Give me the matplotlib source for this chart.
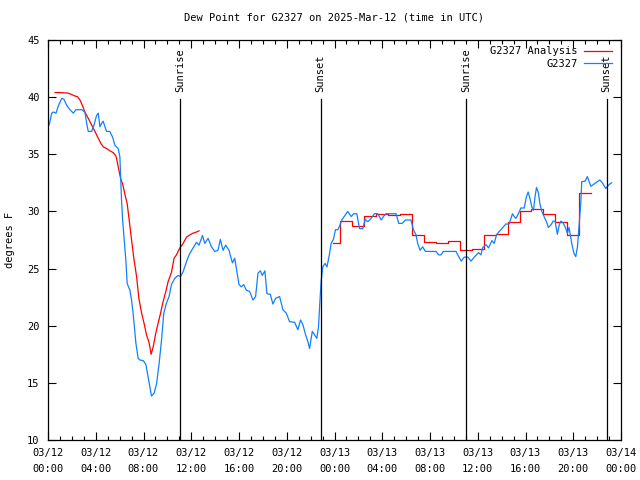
import matplotlib
matplotlib.use("Agg")
import matplotlib.pyplot as plt
import numpy as np

# ---------------- data (hours since 2025-03-12 00:00 UTC) ----------------
obs_hours = [0.11, 0.31, 0.44, 0.67, 0.86, 1.15, 1.34, 1.56, 1.84, 2.12, 2.34, 2.82, 3.09, 3.24,
             3.37, 3.65, 3.87, 4.07, 4.21, 4.35, 4.49, 4.62, 4.77, 4.91, 5.18, 5.41, 5.60, 5.88,
             6.02, 6.10, 6.16, 6.25, 6.36, 6.52, 6.63, 6.86, 7.00, 7.13, 7.36, 7.55, 7.69, 7.97,
             8.20, 8.39, 8.67, 8.89, 9.09, 9.31, 9.51, 9.70, 9.93, 10.14, 10.34, 10.62, 10.90,
             11.10, 11.31, 11.60, 11.82, 12.15, 12.44, 12.65, 12.94, 13.13, 13.41, 13.69, 13.97,
             14.24, 14.44, 14.66, 14.89, 15.16, 15.45, 15.64, 15.83, 16.00, 16.20, 16.39, 16.62,
             16.89, 17.17, 17.39, 17.59, 17.79, 17.95, 18.17, 18.34, 18.62, 18.84, 19.07, 19.40,
             19.68, 19.96, 20.24, 20.66, 20.93, 21.16, 21.35, 21.58, 21.77, 21.91, 22.14, 22.33,
             22.52, 22.66, 22.80, 22.89, 23.02, 23.21, 23.37, 23.54, 23.72, 23.92, 24.08, 24.28,
             24.42, 24.64, 24.84, 25.11, 25.40, 25.61, 25.87, 26.09, 26.37, 26.57, 26.79, 27.07,
             27.35, 27.62, 27.91, 28.10, 28.32, 29.16, 29.38, 29.66, 29.94, 30.41, 30.61, 30.83,
             30.97, 31.17, 31.39, 31.61, 32.51, 32.72, 32.92, 33.12, 34.18, 34.40, 34.62, 34.87,
             35.18, 35.43, 35.71, 36.07, 36.27, 36.40, 36.69, 36.90, 37.19, 37.38, 37.57, 37.80,
             38.02, 38.36, 38.63, 38.91, 39.05, 39.20, 39.41, 39.61, 39.89, 40.08, 40.22, 40.37,
             40.53, 40.67, 40.78, 40.92, 41.09, 41.20, 41.37, 41.56, 41.75, 41.92, 42.12, 42.31,
             42.48, 42.67, 42.82, 42.96, 43.15, 43.32, 43.51, 43.65, 43.80, 43.93, 44.07, 44.21,
             44.35, 44.49, 44.63, 44.71, 44.99, 45.18, 45.47, 45.74, 45.94, 46.22, 46.44, 46.72,
             46.86, 47.06, 47.22]
obs_dewpt = [37.6, 38.6, 38.7, 38.6, 39.2, 39.9, 39.8, 39.3, 38.9, 38.6, 38.9, 38.9, 38.7, 37.7,
             37.0, 37.0, 37.6, 38.4, 38.6, 37.4, 37.7, 37.9, 37.4, 37.0, 37.0, 36.5, 35.8, 35.5,
             34.8, 32.5, 31.0, 29.25, 27.8, 25.75, 23.7, 23.1, 22.25, 21.1, 18.5, 17.15, 17.0, 16.95,
             16.6, 15.5, 13.85, 14.1, 14.9, 16.7, 18.75, 21.1, 22.0, 22.55, 23.6, 24.15, 24.4,
             24.3, 24.7, 25.6, 26.2, 26.8, 27.3, 27.05, 27.9, 27.2, 27.65, 26.9, 26.5,
             26.6, 27.55, 26.6, 27.05, 26.6, 25.5, 25.9, 24.7, 23.6, 23.4, 23.6, 23.1,
             23.0, 22.25, 22.55, 24.6, 24.8, 24.4, 24.8, 22.8, 22.75, 21.9, 22.4, 22.55,
             21.4, 21.1, 20.35, 20.3, 19.65, 20.5, 20.1, 19.2, 18.6, 18.0, 19.5, 19.2,
             18.9, 19.9, 22.55, 24.0, 25.15, 25.45, 25.15, 26.05, 27.2, 27.6, 28.4, 28.4,
             28.7, 29.3, 29.6, 30.0, 29.55, 29.8, 29.8, 28.5, 28.5, 29.3, 29.1, 29.4,
             29.8, 29.8, 29.25, 29.55, 29.8, 29.8, 28.95, 28.95, 29.25, 29.25, 28.4, 27.95,
             27.2, 26.6, 26.9, 26.5, 26.5, 26.2, 26.2, 26.5, 26.5, 26.05, 25.65, 26.0,
             26.0, 25.65, 26.0, 26.4, 26.2, 26.8, 27.1, 26.8, 27.45, 27.2, 27.95, 28.25,
             28.5, 28.9, 28.9, 29.8, 29.55, 29.4, 29.8, 30.3, 30.3, 31.3, 31.7, 31.15,
             30.4, 30.1, 31.15, 32.1, 31.6, 30.7, 30.0, 29.55, 29.1, 28.6, 28.8, 29.15,
             29.15, 28.0, 28.8, 29.15, 29.0, 28.65, 28.1, 28.6, 27.65, 26.9, 26.3, 26.05,
             26.9, 28.8, 30.7, 32.6, 32.65, 33.05, 32.2, 32.4, 32.55, 32.75, 32.5, 32.0,
             32.2, 32.4, 32.5]

# analysis, first part (smooth)
ana1_hours = [0.59, 1.00, 1.70, 2.26, 2.45, 2.68, 2.87, 3.09, 3.37, 3.66, 3.93, 4.21, 4.43, 4.63,
              4.91, 5.19, 5.46, 5.69, 5.80, 5.96, 6.08, 6.25, 6.36, 6.52, 6.63, 6.80, 7.00, 7.19,
              7.42, 7.61, 7.84, 8.05, 8.25, 8.47, 8.64, 8.81, 9.03, 9.22, 9.43, 9.64, 9.87, 10.06,
              10.35, 10.56, 10.76, 11.04, 11.32, 11.60, 11.88, 12.15, 12.44, 12.65]
ana1_dewpt = [40.4, 40.4, 40.35, 40.1, 40.05, 39.75, 39.3, 38.7, 38.15, 37.55, 37.0, 36.4, 35.95,
              35.65, 35.5, 35.3, 35.15, 34.85, 34.35, 33.5, 32.9, 32.4, 31.9, 31.15, 30.7, 29.25,
              27.5, 25.9, 24.3, 22.4, 21.1, 20.2, 19.2, 18.5, 17.5, 18.15, 19.35, 20.2, 21.1, 22.1,
              23.0, 23.85, 24.7, 25.9, 26.2, 26.8, 27.2, 27.75, 27.95, 28.1, 28.2, 28.3]

# analysis, second part (hourly steps)
ana2_hours = [23.85, 24.5, 25.5, 26.5, 27.5, 28.5, 29.5, 30.5, 31.5, 32.5, 33.5, 34.5, 35.5,
              36.5, 37.5, 38.5, 39.5, 40.5, 41.5, 42.5, 43.5, 44.5, 45.45]
ana2_dewpt = [27.2, 29.2, 28.7, 29.6, 29.8, 29.7, 29.8, 27.95, 27.3, 27.2, 27.4, 26.6, 26.75,
              27.9, 28.0, 29.05, 30.0, 30.2, 29.8, 29.1, 27.95, 31.65, 31.65]

sun_hours = [11.04, 22.83, 35.04, 46.8]
sun_labels = ["Sunrise", "Sunset", "Sunrise", "Sunset"]

tick_hours = [0, 4, 8, 12, 16, 20, 24, 28, 32, 36, 40, 44, 48]
tick_labels = ["03/12\n00:00", "03/12\n04:00", "03/12\n08:00", "03/12\n12:00", "03/12\n16:00",
               "03/12\n20:00", "03/13\n00:00", "03/13\n04:00", "03/13\n08:00", "03/13\n12:00",
               "03/13\n16:00", "03/13\n20:00", "03/14\n00:00"]

# ---------------- plot ----------------
plt.rcParams['font.family'] = ['DejaVu Sans Mono']
FS = 7.5
fig = plt.figure(figsize=(6.4, 4.8), dpi=100)
ax = fig.add_axes([48 / 640, 40 / 480, 573 / 640, 400 / 480])

RED = '#ff0000'
BLUE = '#1080ff'

ax.plot(ana1_hours, ana1_dewpt, color=RED, lw=0.9, label='G2327 Analysis')
ax.plot(ana2_hours, ana2_dewpt, color=RED, lw=0.9, drawstyle='steps-post')
ax.plot(obs_hours, obs_dewpt, color=BLUE, lw=0.9, label='G2327')

for h, lab in zip(sun_hours, sun_labels):
    ax.plot([h, h], [10, 39.8], color='black', lw=0.9)
    ax.text(h, 40.45, lab, rotation=90, ha='center', va='bottom', fontsize=FS)

ax.set_xlim(0, 48)
ax.set_ylim(10, 45)
ax.set_xticks(tick_hours)
ax.set_xticklabels(tick_labels, fontsize=FS, linespacing=1.7)
ax.set_xticks(np.arange(0, 49, 1), minor=True)
ax.set_yticks(np.arange(10, 46, 5))
ax.tick_params(axis='y', labelsize=FS)
ax.tick_params(which='both', direction='in', top=True, right=True, width=0.8)
ax.tick_params(which='major', length=6)
ax.tick_params(which='minor', length=3)
ax.tick_params(axis='x', pad=6)
ax.tick_params(axis='y', pad=6)
for s in ax.spines.values():
    s.set_linewidth(0.9)

ax.set_ylabel('degrees F', fontsize=FS, labelpad=9)
ax.set_title('Dew Point for G2327 on 2025-Mar-12 (time in UTC)', fontsize=FS, pad=14)

leg = ax.legend(loc='upper right', frameon=False, markerfirst=False, fontsize=FS,
                handlelength=2.7, handletextpad=0.6, labelspacing=0.25,
                borderaxespad=0.2, bbox_to_anchor=(0.995, 1.0))

fig.savefig('out.png', dpi=100)
